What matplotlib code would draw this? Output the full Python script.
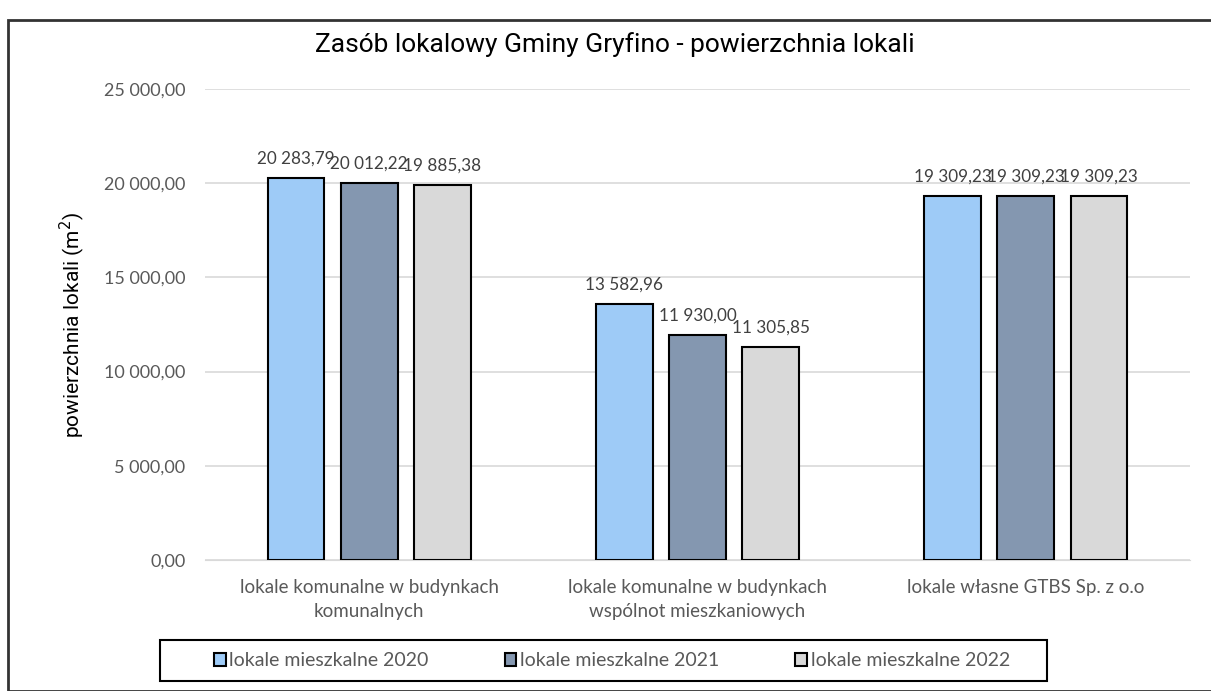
import matplotlib
matplotlib.use('Agg')
import numpy as np
import matplotlib.pyplot as plt
from matplotlib.patches import Rectangle

categories = ['lokale komunalne w budynkach\nkomunalnych',
              'lokale komunalne w budynkach\nwspólnot mieszkaniowych',
              'lokale własne GTBS Sp. z o.o']
series = ['lokale mieszkalne 2020', 'lokale mieszkalne 2021', 'lokale mieszkalne 2022']
v2020 = [20283.79, 13582.96, 19309.23]
v2021 = [20012.22, 11930.00, 19309.23]
v2022 = [19885.38, 11305.85, 19309.23]
colors = ['#9ecbf7', '#8497b0', '#d9d9d9']

def fmt(v):
    s = '{:,.2f}'.format(v)
    return s.replace(',', ' ').replace('.', ',')

plt.rcParams['font.family'] = ['Lato', 'DejaVu Sans']

fig = plt.figure(figsize=(12.11, 6.91), dpi=100)
ax = fig.add_axes([205/1211, 1 - 560/691, 985/1211, 471/691])

x = np.arange(len(categories))
w = 0.173
step = 0.223
for i, (vals, lab) in enumerate(zip([v2020, v2021, v2022], series)):
    pos = x + (i - 1) * step
    ax.bar(pos, vals, width=w, color=colors[i], edgecolor='black', linewidth=1.5, label=lab, zorder=3)
    for p, v in zip(pos, vals):
        ax.text(p, v + 600, fmt(v), ha='center', va='bottom', fontsize=12.3, color='#404040')

ax.set_xlim(-0.5, 2.5)
ax.set_ylim(0, 25000)
ax.set_yticks(np.arange(0, 25001, 5000))
ax.set_yticklabels([fmt(t) for t in np.arange(0, 25001, 5000)], fontsize=13, color='#595959')
ax.set_xticks(x)
ax.set_xticklabels(categories, fontsize=13.5, color='#595959', linespacing=1.5)
ax.tick_params(length=0, pad=14)
ax.grid(axis='y', color='#d9d9d9', linewidth=1.2, zorder=0)
for s in ax.spines.values():
    s.set_visible(False)
ax.spines['bottom'].set_visible(True)
ax.spines['bottom'].set_color('#d9d9d9')

ax.set_ylabel('powierzchnia lokali (m$^2$)', fontsize=15, family='Roboto', labelpad=12)
fig.text(0.508, 1 - 45/691, 'Zasób lokalowy Gminy Gryfino - powierzchnia lokali', ha='center', va='center',
         fontsize=19, family='Roboto')

leg = fig.legend(loc='center', bbox_to_anchor=(612/1211, 1 - 661/691),
                 ncol=3, fontsize=14, frameon=False,
                 handlelength=0.6, handleheight=0.6, handletextpad=0.2, columnspacing=3.9)
for t in leg.get_texts():
    t.set_color('#595959')
fig.patches.append(Rectangle((160/1211, 1 - 681/691), 887/1211, 41/691, transform=fig.transFigure,
                             fill=False, edgecolor='black', linewidth=1.5))

fig.patches.append(Rectangle((8/1211, 0), 1.1, 1 - 20/691, transform=fig.transFigure,
                             fill=False, edgecolor='#333333', linewidth=2))

fig.savefig('out.png', dpi=100)
